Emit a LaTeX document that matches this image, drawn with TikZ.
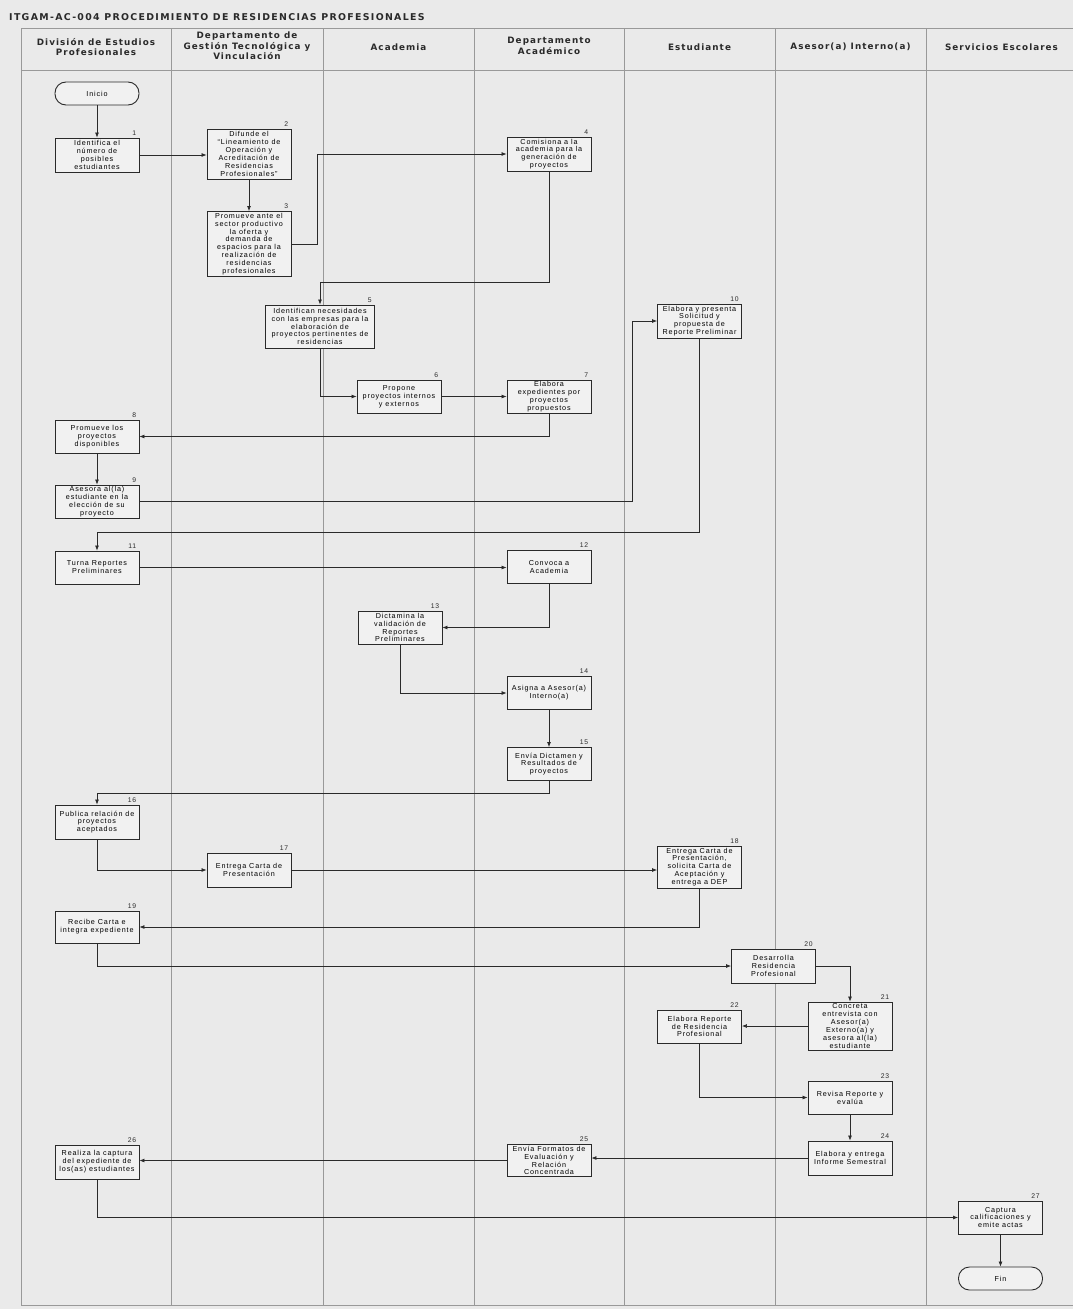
\documentclass[tikz,border=0pt]{standalone}
\usepackage{fontspec}
\setmainfont{Liberation Sans}
\newfontfamily\hdrfont[LetterSpace=12]{DejaVu Sans}
\newfontfamily\ttlfont[LetterSpace=14]{DejaVu Sans}
\newfontfamily\boxfont[LetterSpace=12]{Liberation Sans}
\usetikzlibrary{arrows.meta,calc}
\definecolor{bgc}{HTML}{EAEAEA}
\definecolor{boxc}{HTML}{F1F1F1}
\definecolor{inkc}{HTML}{2A2A2A}
\begin{document}
\begin{tikzpicture}[x=1pt,y=-1pt,
  proc/.style={draw=inkc, line width=0.9pt, fill=boxc, minimum width=84pt, minimum height=33pt,
    inner sep=1pt, align=center, font=\boxfont\fontsize{7.2}{7.9}\selectfont},
  term/.style={proc, rounded corners=11pt, minimum height=23pt},
  numlbl/.style={font=\boxfont\fontsize{6.8}{7}\selectfont, inner sep=1pt, anchor=south east, text=inkc},
  flow/.style={draw=inkc, line width=0.7pt, -{Latex[length=5pt,width=4pt]}},
  lane/.style={draw=black!40, line width=0.4pt},
  hdr/.style={font=\hdrfont\bfseries\fontsize{8.8}{10.5}\selectfont, align=center, text=inkc}
]
\useasboundingbox (0,0) rectangle (1073,1309);
\fill[bgc] (0,0) rectangle (1073,1309);

% title
\node[font=\ttlfont\bfseries\fontsize{9.4}{10}\selectfont, anchor=west, inner sep=0pt, text=inkc] (title) at (9,17)
  {ITGAM-AC-004 PROCEDIMIENTO DE RESIDENCIAS PROFESIONALES};

% frame and lanes
\draw[lane] (21,28) -- (1077,28);
\draw[lane] (21,70) -- (1077,70);
\draw[lane] (21,28) -- (21,1305) -- (1077,1305);
\foreach \xx in {171,323,474,624,775,926} { \draw[lane] (\xx,28) -- (\xx,1305); }

% headers
\node[hdr] (h1) at (96,47) {División de Estudios\\Profesionales};
\node[hdr] (h2) at (247,46) {Departamento de\\Gestión Tecnológica y\\Vinculación};
\node[hdr] (h3) at (398.5,47) {Academia};
\node[hdr] (h4) at (549,46) {Departamento\\Académico};
\node[hdr] (h5) at (699.5,47) {Estudiante};
\node[hdr] (h6) at (850.5,47) {Asesor(a) Interno(a)};
\node[hdr] (h7) at (1001.5,47) {Servicios Escolares};

% nodes
\node[term] (n0) at (97,93.5) {Inicio};
\node[proc, minimum height=34pt] (n1) at (97,155) {Identifica el\\número de\\posibles\\estudiantes};
\node[proc, minimum height=50pt] (n2) at (249,154) {Difunde el\\“Lineamiento de\\Operación y\\Acreditación de\\Residencias\\Profesionales”};
\node[proc, minimum height=65pt] (n3) at (249,244) {Promueve ante el\\sector productivo\\la oferta y\\demanda de\\espacios para la\\realización de\\residencias\\profesionales};
\node[proc, minimum height=34pt] (n4) at (549,154) {Comisiona a la\\academia para la\\generación de\\proyectos};
\node[proc, minimum width=109pt, minimum height=43pt] (n5) at (320,326.5) {Identifican necesidades\\con las empresas para la\\elaboración de\\proyectos pertinentes de\\residencias};
\node[proc] (n6) at (399,396.5) {Propone\\proyectos internos\\y externos};
\node[proc] (n7) at (549,396.5) {Elabora\\expedientes por\\proyectos\\propuestos};
\node[proc] (n8) at (97,436.5) {Promueve los\\proyectos\\disponibles};
\node[proc] (n9) at (97,501.5) {Asesora al(la)\\estudiante en la\\elección de su\\proyecto};
\node[proc, minimum height=34pt] (n10) at (699.5,321) {Elabora y presenta\\Solicitud y\\propuesta de\\Reporte Preliminar};
\node[proc] (n11) at (97,567.5) {Turna Reportes\\Preliminares};
\node[proc] (n12) at (549,567) {Convoca a\\Academia};
\node[proc] (n13) at (400,627.5) {Dictamina la\\validación de\\Reportes\\Preliminares};
\node[proc] (n14) at (549,693) {Asigna a Asesor(a)\\Interno(a)};
\node[proc] (n15) at (549,764) {Envía Dictamen y\\Resultados de\\proyectos};
\node[proc, minimum height=34pt] (n16) at (97,822) {Publica relación de\\proyectos\\aceptados};
\node[proc, minimum height=34pt] (n17) at (249,870) {Entrega Carta de\\Presentación};
\node[proc, minimum height=42pt] (n18) at (699.5,867) {Entrega Carta de\\Presentación,\\solicita Carta de\\Aceptación y\\entrega a DEP};
\node[proc, minimum height=32pt] (n19) at (97,927) {Recibe Carta e\\integra expediente};
\node[proc, minimum height=34pt] (n20) at (773.5,966) {Desarrolla\\Residencia\\Profesional};
\node[proc, minimum height=48pt] (n21) at (850,1026) {Concreta\\entrevista con\\Asesor(a)\\Externo(a) y\\asesora al(la)\\estudiante};
\node[proc] (n22) at (699.5,1026.5) {Elabora Reporte\\de Residencia\\Profesional};
\node[proc] (n23) at (850,1097.5) {Revisa Reporte y\\evalúa};
\node[proc, minimum height=34pt] (n24) at (850,1158) {Elabora y entrega\\Informe Semestral};
\node[proc, minimum height=32pt] (n25) at (549,1160.5) {Envía Formatos de\\Evaluación y\\Relación\\Concentrada};
\node[proc, minimum height=34pt] (n26) at (97,1162) {Realiza la captura\\del expediente de\\los(as) estudiantes};
\node[proc] (n27) at (1000.5,1217.5) {Captura\\calificaciones y\\emite actas};
\node[term] (nF) at (1000.5,1278.5) {Fin};

% step numbers
\foreach \nn in {1,...,27} { \node[numlbl] (l\nn) at ($(n\nn.north east)+(-2,-1)$) {\nn}; }

% connectors
\draw[flow] (n0) -- (n1);
\draw[flow] (n1.east) -- (n1.east -| n2.west);
\draw[flow] (n2) -- (n3);
\draw[flow] (n3.east) -- ++(26,0) |- (n4.west);
\draw[flow] (n4.south) -- ++(0,111) -| (n5.north);
\draw[flow] (n5.south) |- (n6.west);
\draw[flow] (n6) -- (n7);
\draw[flow] (n7.south) |- (n8.east);
\draw[flow] (n8) -- (n9);
\draw[flow] (n9.east) -- ++(493,0) |- (n10.west);
\draw[flow] (n10.south) -- ++(0,194) -| (n11.north);
\draw[flow] (n11.east) -- (n11.east -| n12.west);
\draw[flow] (n12.south) |- (n13.east);
\draw[flow] (n13.south) |- (n14.west);
\draw[flow] (n14) -- (n15);
\draw[flow] (n15.south) -- ++(0,12) -| (n16.north);
\draw[flow] (n16.south) |- (n17.west);
\draw[flow] (n17.east) -- (n17.east -| n18.west);
\draw[flow] (n18.south) |- (n19.east);
\draw[flow] (n19.south) |- (n20.west);
\draw[flow] (n20.east) -| (n21.north);
\draw[flow] (n21.west) -- (n21.west -| n22.east);
\draw[flow] (n22.south) |- (n23.west);
\draw[flow] (n23) -- (n24);
\draw[flow] (n24.west) -- (n24.west -| n25.east);
\draw[flow] (n25.west) -- (n25.west -| n26.east);
\draw[flow] (n26.south) |- (n27.west);
\draw[flow] (n27) -- (nF);
\end{tikzpicture}
\end{document}
